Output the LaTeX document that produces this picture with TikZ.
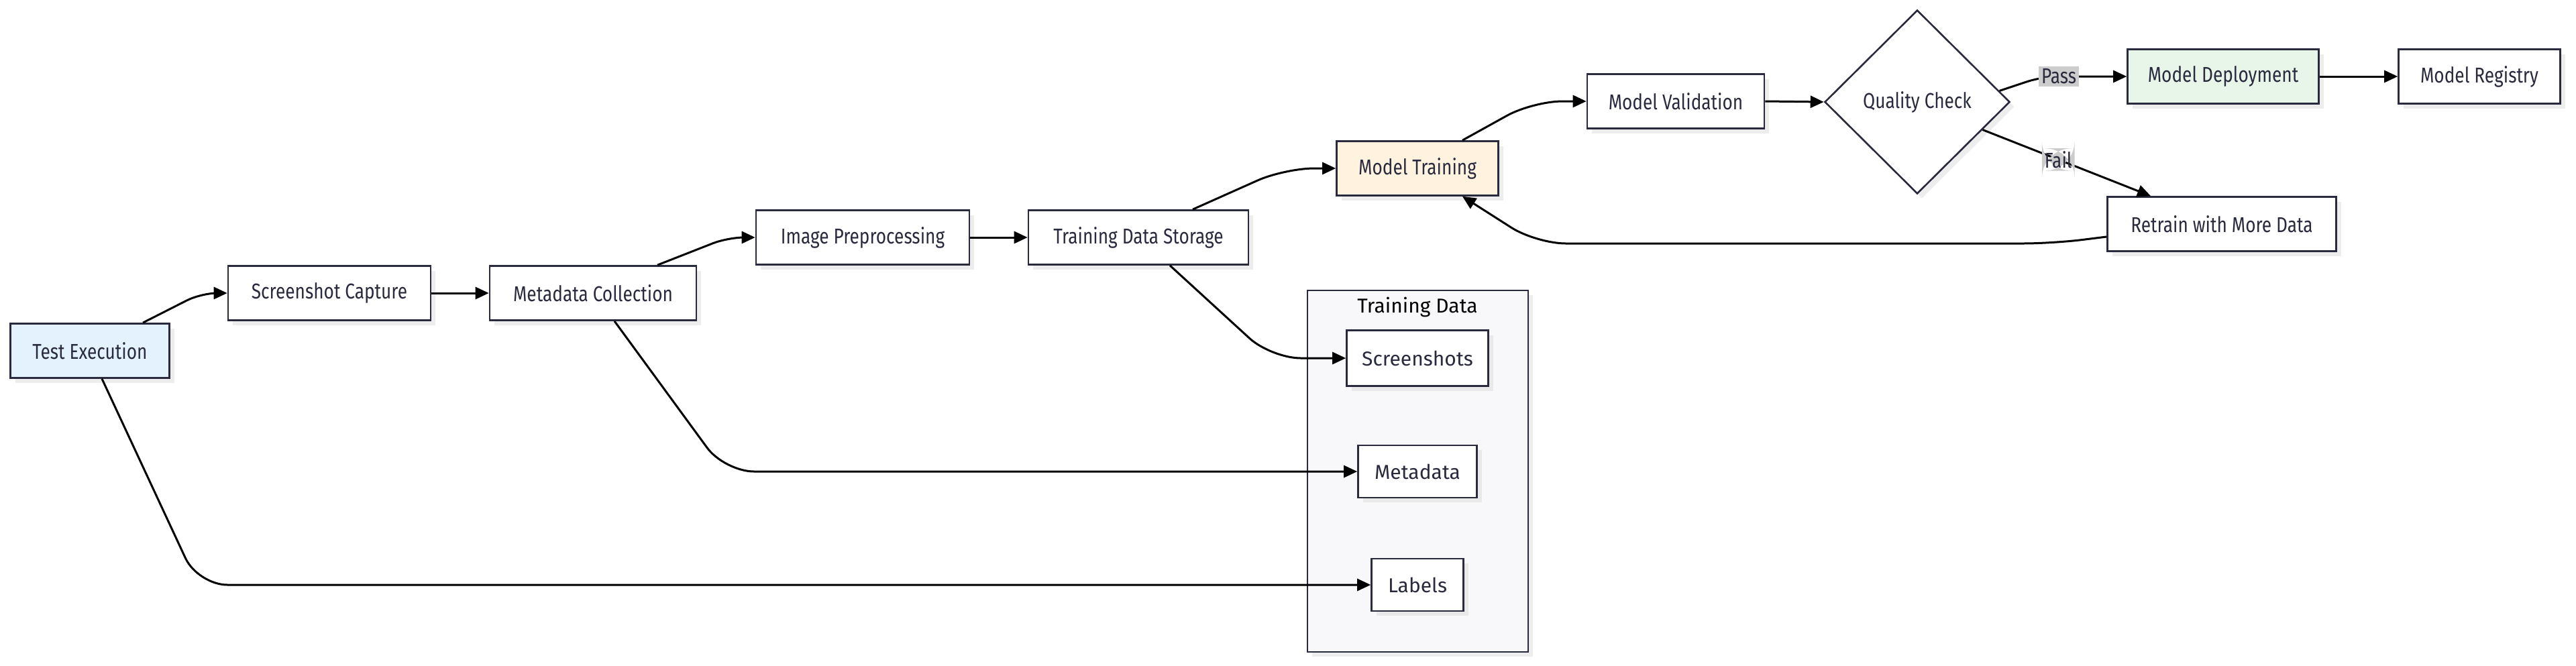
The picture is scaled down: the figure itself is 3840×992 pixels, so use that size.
\documentclass[tikz,border=0pt]{standalone}
\usepackage{fontspec}
\setmainfont{Fira Sans}
\newfontfamily\condfont[FakeStretch=0.82]{Fira Sans}
\usetikzlibrary{arrows.meta,shapes.geometric,shadows,calc}
\definecolor{strokec}{HTML}{2A2A3E}
\definecolor{textc}{HTML}{2A2A3E}
\definecolor{tefill}{HTML}{E3F2FD}
\definecolor{mtfill}{HTML}{FFF3E0}
\definecolor{mdfill}{HTML}{E8F5E9}
\definecolor{clfill}{HTML}{F8F8FB}
\definecolor{lblfill}{HTML}{CCCCCC}
\tikzset{
  shad/.style={drop shadow={shadow xshift=3.5pt,shadow yshift=-3.5pt,fill=black!14}},
  box/.style={draw=strokec, line width=1.3pt, fill=white, minimum height=40.5pt, inner sep=0pt,
     font=\condfont\fontsize{16}{19}\selectfont, text=textc, shad},
  dbox/.style={box, font=\fontsize{15}{18}\selectfont},
  conn/.style={line width=1.5pt, draw=black, rounded corners=22pt, -{Triangle[length=10pt,width=9pt]}},
  lbl/.style={fill=lblfill, inner sep=2pt, font=\condfont\fontsize{16}{19}\selectfont, text=textc}
}
\begin{document}
\begin{tikzpicture}[x=0.5pt,y=-0.5pt]
\useasboundingbox (0,0) rectangle (3840,992);
% cluster
\node[draw=strokec, line width=1.3pt, fill=clfill, shad, minimum width=164.5pt, minimum height=269.5pt, inner sep=0pt] (cl) at (2113.5,702.5) {};
\node[font=\fontsize{15}{18}\selectfont, text=black, anchor=north] (cltitle) at (2113,436) {Training Data};
% nodes
\node[box, fill=tefill, minimum width=118.5pt] (te) at (134,523) {Test Execution};
\node[box, minimum width=151pt] (sc) at (491,437) {Screenshot Capture};
\node[box, minimum width=154pt] (mc) at (884,437) {Metadata Collection};
\node[box, minimum width=159pt] (ip) at (1286,354) {Image Preprocessing};
\node[box, minimum width=164pt] (tds) at (1697,354) {Training Data Storage};
\node[box, fill=mtfill, minimum width=120.5pt] (mt) at (2113,251) {Model Training};
\node[box, minimum width=132pt] (mv) at (2498,151) {Model Validation};
\node[draw=strokec, line width=1.3pt, fill=white, diamond, minimum width=138pt, minimum height=137pt, inner sep=0pt,
      font=\condfont\fontsize{16}{19}\selectfont, text=textc, shad] (qc) at (2858,152) {Quality Check};
\node[box, fill=mdfill, minimum width=142.5pt] (md) at (3314,114) {Model Deployment};
\node[box, minimum width=120.5pt] (mr) at (3696,114) {Model Registry};
\node[box, minimum width=170.5pt] (rt) at (3312,334) {Retrain with More Data};
\node[dbox, minimum width=105.5pt, minimum height=41.5pt] (ss) at (2113,534) {Screenshots};
\node[dbox, minimum width=88.5pt, minimum height=39pt] (meta) at (2113,703) {Metadata};
\node[dbox, minimum width=68.5pt, minimum height=39pt] (lab) at (2113,872) {Labels};
% connectors
\draw[conn, rounded corners=12pt] ($(te.north)+(79,0)$) -- (300,437) -- (sc.west);
\draw[conn] (sc.east) -- (mc.west);
\draw[conn, rounded corners=12pt] ($(mc.north)+(96,0)$) -- (1085,354) -- (ip.west);
\draw[conn] (ip.east) -- (tds.west);
\draw[conn] ($(tds.north)+(81,0)$) -- (1915,251) -- (mt.west);
\draw[conn] ($(mt.north)+(67,0)$) -- (2285,151) -- (mv.west);
\draw[conn] (mv.east) -- (qc.west);
\draw[conn, rounded corners=12pt] ($(qc.east)!0.12!(qc.north)$) -- (3045,114) -- (md.west);
\node[lbl] (pass) at (3069,114) {Pass};
\draw[conn] (md.east) -- (mr.west);
\draw[conn] ($(qc.east)!0.3!(qc.south)$) -- node[lbl, pos=0.45] (fail) {Fail} ($(rt.north)+(-106,0)$);
\draw[conn] ($(rt.west)+(0,19)$) -- (3060,363) -- (2290,363) -- ($(mt.south)+(67,0)$);
\draw[conn] ($(tds.south)+(47,0)$) -- (1895,534) -- (ss.west);
\draw[conn] ($(mc.south)+(32,0)$) -- (1080,703) -- (meta.west);
\draw[conn] ($(te.south)+(18,0)$) -- (295,872) -- (lab.west);
\end{tikzpicture}
\end{document}
